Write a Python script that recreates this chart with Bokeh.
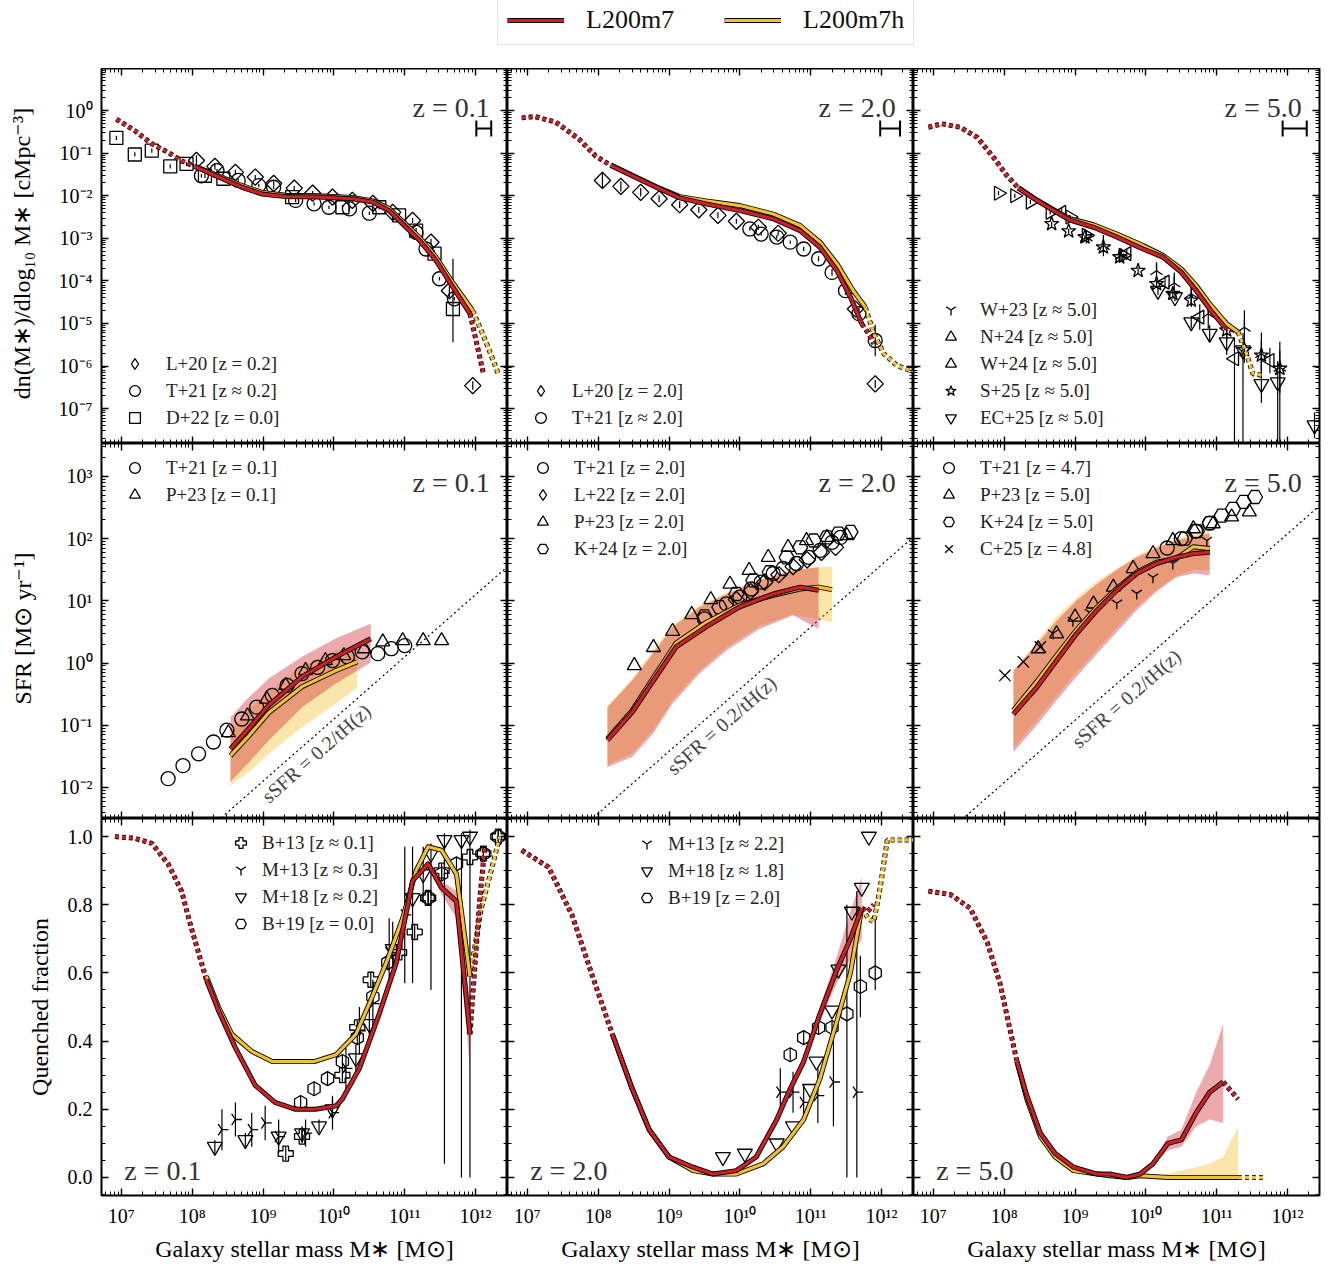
import numpy as np
from bokeh.plotting import figure
from bokeh.layouts import gridplot, column
from bokeh.models import (Range1d, FixedTicker, LogAxis, LinearAxis, Legend,
                          LegendItem, Label, CustomJSTickFormatter)
from bokeh.embed import file_html
from bokeh.resources import INLINE

FONT = "Liberation Serif"
RED = "#cc1f26"
YEL = "#f2c12e"

# ---------------- axes / labels ----------------
X_DECADES = [7, 8, 9, 10, 11, 12]
Y_DECADES_SMF = [-7, -6, -5, -4, -3, -2, -1, 0]
Y_DECADES_SFR = [-2, -1, 0, 1, 2, 3]
Y_TICKS_QF = [0.0, 0.2, 0.4, 0.6, 0.8, 1.0]
Y_LABELS = ["dn(M∗)/dlog₁₀ M∗ [cMpc⁻³]", "SFR [M⊙ yr⁻¹]", "Quenched fraction"]
X_LABEL = "Galaxy stellar mass M∗ [M⊙]"
Z_TEXT = ["z = 0.1", "z = 2.0", "z = 5.0"]
SSFR_TEXT = "sSFR = 0.2/tH(z)"
SSFR_LOGC = [-10.90, -10.42, -9.92]          # log10 sSFR [yr^-1] of dotted line
MERR_LO = [12.01, 11.98, 11.93]              # horizontal mass-error indicator (log M)
MERR_HI = [12.22, 12.26, 12.27]

# ---------------- SMF z = 0.1 ----------------
smf1_red_lo_m = [6.93, 7.19, 7.43, 7.66, 7.85, 8.06]
smf1_red_lo_y = [-0.20, -0.47, -0.78, -0.98, -1.18, -1.33]
smf1_red_m = [8.06, 8.37, 8.70, 8.99, 9.32, 9.79, 10.26, 10.55, 10.78, 10.97, 11.21, 11.44, 11.68, 11.92]
smf1_red_y = [-1.33, -1.56, -1.80, -1.96, -2.02, -2.03, -2.07, -2.15, -2.35, -2.66, -3.05, -3.52, -4.15, -4.77]
smf1_red_hi_m = [11.92, 12.02, 12.11]
smf1_red_hi_y = [-4.77, -5.50, -6.18]
smf1_yel_m = [8.06, 8.37, 8.70, 8.99, 9.32, 9.79, 10.26, 10.55, 10.78, 10.97, 11.21, 11.44, 11.68, 11.96]
smf1_yel_y = [-1.32, -1.53, -1.76, -1.92, -1.99, -2.00, -2.04, -2.12, -2.30, -2.60, -2.98, -3.44, -4.05, -4.70]
smf1_yel_hi_m = [11.96, 12.15, 12.32]
smf1_yel_hi_y = [-4.70, -5.45, -6.18]

L20a_m = [8.06, 8.32, 8.61, 8.89, 9.15, 9.44, 9.70, 9.98, 10.26, 10.55, 10.83, 11.11, 11.37, 11.63, 11.96]
L20a_y = [-1.17, -1.31, -1.45, -1.56, -1.71, -1.82, -1.94, -2.03, -2.11, -2.18, -2.39, -2.58, -3.09, -4.23, -6.46]
L20a_e = [0.12, 0.08, 0.06, 0.05, 0.05, 0.05, 0.05, 0.05, 0.05, 0.05, 0.05, 0.06, 0.08, 0.15, 0.10]
T21a_m = [8.13, 8.35, 8.65, 8.94, 9.15, 9.46, 9.72, 9.93, 10.22, 10.50, 11.16, 11.30, 11.49, 11.70]
T21a_y = [-1.53, -1.41, -1.64, -1.76, -1.80, -2.11, -2.19, -2.27, -2.31, -2.41, -2.86, -3.25, -3.95, -4.42]
D22a_m = [6.93, 7.19, 7.43, 7.69, 7.92, 8.18, 8.44, 9.41, 10.12, 10.64, 10.92, 11.16, 11.42, 11.68]
D22a_y = [-0.64, -1.03, -0.94, -1.31, -1.25, -1.53, -1.60, -2.03, -2.27, -2.27, -2.46, -2.82, -3.36, -4.66]
D22a_elo = [0.05, 0.05, 0.05, 0.05, 0.05, 0.05, 0.05, 0.05, 0.05, 0.05, 0.05, 0.06, 0.08, 0.78]
D22a_ehi = [0.05, 0.05, 0.05, 0.05, 0.05, 0.05, 0.05, 0.05, 0.05, 0.05, 0.05, 0.06, 0.08, 1.18]

# ---------------- SMF z = 2.0 ----------------
smf2_red_lo_m = [6.92, 7.11, 7.40, 7.73, 7.96, 8.18]
smf2_red_lo_y = [-0.17, -0.14, -0.27, -0.67, -1.06, -1.29]
smf2_red_m = [8.18, 8.48, 8.82, 9.15, 9.52, 10.00, 10.47, 10.85, 11.13, 11.37, 11.56, 11.72]
smf2_red_y = [-1.29, -1.53, -1.80, -2.05, -2.19, -2.35, -2.54, -2.82, -3.21, -3.76, -4.38, -5.01]
smf2_red_hi_m = [11.72, 11.80, 11.89]
smf2_red_hi_y = [-5.01, -5.20, -5.48]
smf2_yel_m = [8.18, 8.48, 8.82, 9.15, 9.52, 10.00, 10.47, 10.85, 11.13, 11.37, 11.60, 11.77]
smf2_yel_y = [-1.28, -1.52, -1.79, -2.02, -2.12, -2.23, -2.43, -2.70, -3.09, -3.60, -4.23, -4.62]
smf2_yel_hi_m = [11.77, 11.89, 12.03, 12.22, 12.46]
smf2_yel_hi_y = [-4.62, -5.24, -5.71, -5.99, -6.14]

L20b_m = [8.06, 8.32, 8.60, 8.86, 9.15, 9.42, 9.69, 9.95, 10.26, 10.54, 11.63, 11.91]
L20b_y = [-1.64, -1.78, -1.92, -2.07, -2.21, -2.33, -2.46, -2.60, -2.74, -2.88, -4.66, -6.42]
L20b_e = [0.18, 0.12, 0.10, 0.08, 0.08, 0.07, 0.07, 0.06, 0.06, 0.06, 0.10, 0.10]
T21b_m = [10.14, 10.30, 10.52, 10.71, 10.90, 11.11, 11.30, 11.49, 11.68, 11.91]
T21b_y = [-2.78, -2.90, -2.97, -3.09, -3.25, -3.48, -3.80, -4.23, -4.77, -5.40]
T21b_e = [0.04, 0.04, 0.04, 0.04, 0.05, 0.06, 0.08, 0.10, 0.15, 0.37]

# ---------------- SMF z = 5.0 ----------------
smf3_red_lo_m = [6.93, 7.12, 7.38, 7.62, 7.85, 8.04, 8.20]
smf3_red_lo_y = [-0.39, -0.31, -0.39, -0.63, -1.10, -1.53, -1.82]
smf3_red_m = [8.20, 8.46, 8.74, 8.93, 9.26, 9.59, 9.96, 10.24, 10.50, 10.71, 10.90, 11.11]
smf3_red_y = [-1.82, -2.11, -2.39, -2.57, -2.74, -2.97, -3.25, -3.44, -3.80, -4.23, -4.66, -5.09]
smf3_red_hi_m = [11.11, 11.25]
smf3_red_hi_y = [-5.09, -5.16]
smf3_yel_m = [8.20, 8.46, 8.74, 8.93, 9.26, 9.59, 9.96, 10.24, 10.50, 10.71, 10.90, 11.14, 11.30]
smf3_yel_y = [-1.81, -2.10, -2.37, -2.54, -2.68, -2.90, -3.17, -3.40, -3.72, -4.11, -4.54, -5.01, -5.20]
smf3_yel_hi_m = [11.30, 11.42, 11.51, 11.65]
smf3_yel_hi_y = [-5.20, -5.71, -6.18, -6.22]

W23c_m = [9.16, 9.40, 9.65, 10.15, 10.40, 10.64, 10.88, 11.39, 11.63, 11.89]
W23c_y = [-2.97, -3.17, -3.40, -3.76, -4.05, -4.30, -4.77, -5.09, -5.71, -6.03]
W23c_e = [0.15, 0.25, 0.15, 0.20, 0.25, 0.30, 0.35, 0.40, 0.50, 0.60]
N24c_m = [7.92, 8.15, 8.37, 8.65, 8.93, 9.16, 9.68]
N24c_y = [-1.94, -2.00, -2.15, -2.39, -2.50, -2.93, -3.40]
W24c_m = [8.81, 9.73, 10.27, 10.76, 11.25, 11.75]
W24c_y = [-2.39, -3.36, -4.03, -4.85, -5.83, -5.87]
W24c_elo = [0.10, 0.10, 0.15, 0.30, 3.00, 0.30]
W24c_ehi = [0.10, 0.10, 0.15, 0.30, 0.50, 0.30]
S25c_m = [8.67, 8.91, 9.14, 9.40, 9.63, 9.89, 10.15, 10.38, 10.64, 11.14, 11.39, 11.63, 11.89]
S25c_y = [-2.66, -2.83, -2.97, -3.21, -3.44, -3.76, -4.07, -4.30, -4.46, -5.16, -5.62, -5.75, -6.06]
S25c_elo = [0.05, 0.05, 0.05, 0.06, 0.06, 0.08, 0.10, 0.12, 0.15, 0.25, 0.30, 0.35, 3.00]
S25c_ehi = [0.05, 0.05, 0.05, 0.06, 0.06, 0.08, 0.10, 0.12, 0.15, 0.25, 0.30, 0.35, 0.43]
EC25c_m = [10.17, 10.41, 10.64, 10.90, 11.14, 11.37, 11.63, 11.86, 12.38]
EC25c_y = [-4.23, -4.38, -4.97, -5.24, -5.44, -5.63, -6.42, -6.38, -7.39]
EC25c_elo = [0.10, 0.10, 0.15, 0.20, 0.30, 3.00, 0.45, 3.00, 0.30]
EC25c_ehi = [0.10, 0.10, 0.15, 0.20, 0.30, 0.40, 0.80, 0.50, 0.30]

# ---------------- SFR z = 0.1 ----------------
sfr1_red_m = [8.54, 8.80, 9.08, 9.55, 10.03, 10.52]
sfr1_red_y = [-1.38, -1.05, -0.68, -0.22, 0.10, 0.39]
sfr1_red_up = [-0.87, -0.55, -0.25, 0.10, 0.40, 0.63]
sfr1_red_dn = [-1.91, -1.60, -1.24, -0.71, -0.33, 0.01]
sfr1_yel_m = [8.54, 8.80, 9.08, 9.55, 10.03, 10.33]
sfr1_yel_y = [-1.49, -1.17, -0.80, -0.38, -0.12, 0.02]
sfr1_yel_up = [-1.08, -0.75, -0.45, -0.05, 0.20, 0.30]
sfr1_yel_dn = [-1.97, -1.75, -1.46, -1.03, -0.65, -0.39]

T21d_m = [7.66, 7.87, 8.09, 8.30, 8.49, 8.70, 8.91, 9.13, 9.34, 9.55, 9.77, 9.98, 10.19, 10.40, 10.62, 10.81, 11.00]
T21d_y = [-1.86, -1.65, -1.46, -1.27, -1.08, -0.90, -0.71, -0.52, -0.36, -0.17, -0.07, 0.04, 0.10, 0.18, 0.15, 0.23, 0.28]
P23d_m = [8.51, 8.78, 9.05, 9.32, 9.60, 9.88, 10.14, 10.43, 10.69, 10.97, 11.26, 11.52]
P23d_y = [-1.12, -0.85, -0.58, -0.36, -0.12, 0.04, 0.12, 0.23, 0.34, 0.36, 0.36, 0.36]

# ---------------- SFR z = 2.0 ----------------
sfr2_red_m = [8.13, 8.48, 8.77, 9.10, 9.52, 9.99, 10.47, 10.85, 11.11]
sfr2_red_y = [-1.24, -0.79, -0.30, 0.26, 0.58, 0.90, 1.11, 1.22, 1.17]
sfr2_yel_m = [8.13, 8.48, 8.77, 9.10, 9.52, 9.99, 10.47, 10.85, 11.11, 11.30]
sfr2_yel_y = [-1.22, -0.76, -0.25, 0.32, 0.65, 0.93, 1.09, 1.19, 1.22, 1.18]
sfr2_band_m = [8.13, 8.48, 8.77, 9.05, 9.43, 9.81, 10.28, 10.75, 11.11]
sfr2_red_up = [-0.71, -0.28, 0.15, 0.58, 0.90, 1.11, 1.33, 1.49, 1.54]
sfr2_red_dn = [-1.67, -1.51, -1.14, -0.65, -0.17, 0.20, 0.55, 0.77, 0.55]
sfr2_yband_m = [8.13, 8.48, 8.77, 9.05, 9.43, 9.81, 10.28, 10.75, 11.11, 11.30]
sfr2_yel_up = [-0.69, -0.25, 0.20, 0.62, 0.93, 1.13, 1.35, 1.50, 1.54, 1.55]
sfr2_yel_dn = [-1.64, -1.45, -1.09, -0.60, -0.12, 0.25, 0.60, 0.78, 0.70, 0.66]

T21e_m = [9.50, 9.81, 10.00, 10.16, 10.30, 10.47, 10.61, 10.80, 10.97, 11.13, 11.30, 11.42]
T21e_y = [0.71, 0.95, 1.06, 1.19, 1.30, 1.44, 1.52, 1.60, 1.70, 1.81, 1.94, 2.02]
L22e_m = [9.95, 10.15, 10.35, 10.55, 10.75, 10.95, 11.15, 11.35]
L22e_y = [1.02, 1.15, 1.30, 1.42, 1.55, 1.66, 1.78, 1.86]
P23e_m = [8.51, 8.78, 9.05, 9.32, 9.59, 9.86, 10.13, 10.40, 10.68, 10.94, 11.23, 11.51]
P23e_y = [-0.04, 0.25, 0.51, 0.78, 1.02, 1.27, 1.49, 1.70, 1.86, 1.97, 2.02, 2.05]
K24e_m = [9.50, 9.71, 9.95, 10.19, 10.42, 10.66, 10.85, 11.04, 11.23, 11.39, 11.56]
K24e_y = [0.75, 0.90, 1.11, 1.33, 1.46, 1.70, 1.86, 1.97, 2.02, 2.08, 2.11]

# ---------------- SFR z = 5.0 ----------------
sfr3_m = [8.13, 8.46, 8.74, 9.02, 9.31, 9.59, 9.87, 10.15, 10.43, 10.67, 10.90]
sfr3_red_y = [-0.82, -0.39, 0.04, 0.47, 0.85, 1.17, 1.44, 1.60, 1.70, 1.76, 1.78]
sfr3_yel_y = [-0.76, -0.30, 0.12, 0.53, 0.90, 1.20, 1.46, 1.62, 1.68, 1.87, 1.84]
sfr3_red_up = [-0.12, 0.30, 0.68, 1.00, 1.27, 1.50, 1.70, 1.85, 1.97, 2.03, 2.08]
sfr3_red_dn = [-1.43, -1.00, -0.60, -0.22, 0.15, 0.50, 0.85, 1.15, 1.38, 1.44, 1.41]
sfr3_yel_up = [-0.15, 0.35, 0.75, 1.05, 1.32, 1.52, 1.72, 1.88, 2.00, 2.10, 2.15]
sfr3_yel_dn = [-1.36, -0.92, -0.52, -0.15, 0.22, 0.57, 0.90, 1.18, 1.40, 1.50, 1.49]

T21f_m = [10.30, 10.50, 10.70, 10.90]
T21f_y = [1.85, 2.00, 2.12, 2.25]
P23f_m = [8.48, 8.74, 9.00, 9.26, 9.54, 9.82, 10.10, 10.38, 10.67, 10.95, 11.21, 11.46]
P23f_y = [0.23, 0.47, 0.74, 0.95, 1.22, 1.52, 1.76, 1.97, 2.16, 2.24, 2.35, 2.43]
K24f_m = [10.55, 10.72, 10.90, 11.07, 11.23, 11.38, 11.54]
K24f_y = [2.00, 2.12, 2.25, 2.37, 2.48, 2.59, 2.67]
C25f_m = [8.01, 8.27, 8.51]
C25f_y = [-0.20, 0.02, 0.26]
C25f_b_m = [8.69, 8.97, 9.21, 9.59, 9.87, 10.10, 10.38, 10.86]
C25f_b_y = [0.48, 0.68, 0.81, 0.96, 1.12, 1.38, 1.60, 1.97]

# ---------------- Quenched fraction z = 0.1 ----------------
qf1_red_lo_m = [6.91, 7.19, 7.43, 7.66, 7.85, 7.99, 8.20]
qf1_red_lo_y = [1.00, 0.995, 0.98, 0.92, 0.84, 0.73, 0.58]
qf1_red_m = [8.20, 8.37, 8.61, 8.89, 9.17, 9.46, 9.74, 10.03, 10.12, 10.36, 10.64, 10.88, 11.11, 11.33, 11.52, 11.73, 11.92]
qf1_red_y = [0.58, 0.49, 0.38, 0.27, 0.22, 0.20, 0.20, 0.21, 0.23, 0.32, 0.48, 0.63, 0.87, 0.92, 0.85, 0.81, 0.42]
qf1_red_hi_m = [11.92, 11.99, 12.06, 12.13]
qf1_red_hi_y = [0.42, 0.62, 0.82, 0.97]
qf1_yel_m = [8.20, 8.37, 8.56, 8.84, 9.13, 9.41, 9.72, 10.03, 10.31, 10.50, 10.74, 10.97, 11.16, 11.33, 11.52, 11.73, 11.92]
qf1_yel_y = [0.59, 0.50, 0.42, 0.37, 0.34, 0.34, 0.34, 0.36, 0.42, 0.51, 0.63, 0.76, 0.90, 0.97, 0.96, 0.89, 0.59]
qf1_yel_hi_m = [11.92, 12.08, 12.22, 12.34]
qf1_yel_hi_y = [0.59, 0.79, 0.90, 1.00]
qf1_band_m = [11.33, 11.52, 11.73, 11.92]
qf1_red_up = [0.93, 0.87, 0.84, 0.52]
qf1_red_dn = [0.91, 0.83, 0.76, 0.32]

B13g_m = [9.32, 9.55, 10.12, 10.33, 10.52, 10.92, 11.14, 11.33, 11.52, 11.92, 12.11, 12.32]
B13g_y = [0.07, 0.12, 0.30, 0.44, 0.58, 0.66, 0.72, 0.82, 0.90, 0.94, 0.95, 1.00]
M13g_m = [8.42, 8.61, 8.84, 9.03, 9.22, 9.60, 9.98, 10.17, 10.36, 10.55, 10.78, 11.00]
M13g_y = [0.14, 0.17, 0.14, 0.16, 0.12, 0.13, 0.19, 0.32, 0.43, 0.51, 0.66, 0.77]
M13g_e = [0.06, 0.05, 0.05, 0.05, 0.05, 0.04, 0.05, 0.06, 0.07, 0.07, 0.10, 0.20]
M18g_m = [8.32, 8.75, 9.22, 9.55, 9.79, 9.98, 10.31, 10.50, 10.83, 11.11, 11.26, 11.37, 11.56, 11.80, 11.92]
M18g_y = [0.09, 0.11, 0.12, 0.13, 0.15, 0.20, 0.35, 0.45, 0.67, 0.82, 0.89, 0.95, 0.99, 0.99, 1.00]
M18g_elo = [0.02, 0.02, 0.02, 0.02, 0.02, 0.03, 0.04, 0.05, 0.08, 0.25, 0.08, 0.40, 0.95, 0.99, 1.00]
M18g_ehi = [0.02, 0.02, 0.02, 0.02, 0.02, 0.03, 0.04, 0.05, 0.08, 0.15, 0.08, 0.03, 0.02, 0.02, 0.02]
B19g_m = [9.53, 9.72, 9.91, 10.12, 10.33, 10.55, 10.76, 11.33, 11.52, 11.73, 12.11, 12.32]
B19g_y = [0.22, 0.26, 0.29, 0.34, 0.41, 0.53, 0.63, 0.82, 0.89, 0.92, 0.95, 1.00]

# ---------------- Quenched fraction z = 2.0 ----------------
qf2_red_lo_m = [6.92, 7.30, 7.63, 7.92, 8.20]
qf2_red_lo_y = [0.96, 0.91, 0.77, 0.59, 0.42]
qf2_red_m = [8.20, 8.48, 8.72, 9.00, 9.34, 9.62, 9.95, 10.23, 10.52, 10.71, 10.90, 11.13, 11.37, 11.56, 11.72]
qf2_red_y = [0.42, 0.26, 0.14, 0.06, 0.03, 0.01, 0.02, 0.06, 0.17, 0.26, 0.34, 0.48, 0.61, 0.70, 0.79]
qf2_red_hi_m = [11.72, 11.80, 11.89]
qf2_red_hi_y = [0.79, 0.78, 0.80]
qf2_yel_m = [8.20, 8.48, 8.72, 9.00, 9.34, 9.62, 9.95, 10.33, 10.61, 10.90, 11.13, 11.37, 11.56, 11.72]
qf2_yel_y = [0.42, 0.26, 0.14, 0.06, 0.02, 0.01, 0.01, 0.04, 0.09, 0.17, 0.29, 0.46, 0.60, 0.79]
qf2_yel_hi_m = [11.72, 11.81, 11.89, 11.98, 12.08, 12.46]
qf2_yel_hi_y = [0.79, 0.76, 0.75, 0.85, 0.99, 0.99]
qf2_band_m = [11.13, 11.37, 11.56, 11.72]
qf2_red_up = [0.50, 0.65, 0.78, 0.88]
qf2_red_dn = [0.46, 0.57, 0.64, 0.70]

M13h_m = [10.57, 10.75, 10.90, 11.10, 11.32, 11.65]
M13h_y = [0.25, 0.25, 0.22, 0.24, 0.28, 0.25]
M13h_elo = [0.07, 0.06, 0.05, 0.08, 0.13, 0.25]
M13h_ehi = [0.07, 0.06, 0.05, 0.08, 0.13, 0.59]
M18h_m = [9.76, 10.07, 10.52, 10.75, 10.99, 11.08, 11.30, 11.39, 11.58, 11.72, 11.82]
M18h_y = [0.06, 0.07, 0.10, 0.15, 0.26, 0.34, 0.49, 0.61, 0.78, 0.85, 1.00]
B19h_m = [10.71, 10.90, 11.11, 11.30, 11.51, 11.70, 11.91]
B19h_y = [0.36, 0.41, 0.44, 0.44, 0.48, 0.56, 0.60]
B19h_elo = [0.02, 0.02, 0.02, 0.02, 0.48, 0.09, 0.05]
B19h_ehi = [0.02, 0.02, 0.02, 0.02, 0.32, 0.09, 0.16]

# ---------------- Quenched fraction z = 5.0 ----------------
qf3_red_lo_m = [6.93, 7.24, 7.52, 7.76, 7.94, 8.18]
qf3_red_lo_y = [0.84, 0.83, 0.79, 0.69, 0.57, 0.34]
qf3_red_m = [8.18, 8.32, 8.51, 8.72, 8.98, 9.31, 9.49, 9.73, 9.92, 10.10, 10.31, 10.50, 10.71, 10.90, 11.09]
qf3_red_y = [0.34, 0.24, 0.13, 0.07, 0.03, 0.01, 0.01, 0.00, 0.01, 0.04, 0.10, 0.11, 0.19, 0.25, 0.28]
qf3_red_hi_m = [11.09, 11.30]
qf3_red_hi_y = [0.28, 0.23]
qf3_yel_m = [8.18, 8.32, 8.51, 8.72, 8.98, 9.31, 9.49, 9.73, 9.92, 10.31, 10.71, 11.30]
qf3_yel_y = [0.34, 0.23, 0.12, 0.06, 0.02, 0.01, 0.005, 0.00, 0.005, 0.00, 0.00, 0.00]
qf3_yel_hi_m = [11.30, 11.68]
qf3_yel_hi_y = [0.00, 0.00]
qf3_band_m = [9.92, 10.10, 10.31, 10.50, 10.71, 10.90, 11.09]
qf3_red_up = [0.01, 0.045, 0.12, 0.14, 0.25, 0.33, 0.45]
qf3_red_dn = [0.01, 0.035, 0.08, 0.09, 0.15, 0.17, 0.16]
qf3_yband_m = [9.92, 10.31, 10.50, 10.71, 10.90, 11.09, 11.30]
qf3_yel_up = [0.00, 0.01, 0.02, 0.03, 0.04, 0.06, 0.15]
qf3_yel_dn = [0.00, 0.00, 0.00, 0.00, 0.00, 0.00, 0.00]


# ======================= helpers =======================
def L(a):
    return 10.0 ** np.asarray(a, dtype=float)


def ident(a):
    return np.asarray(a, dtype=float)


SUP_JS = """
const s = {'0':'\u2070','1':'\u00b9','2':'\u00b2','3':'\u00b3','4':'\u2074','5':'\u2075',
           '6':'\u2076','7':'\u2077','8':'\u2078','9':'\u2079','-':'\u207b'};
const e = Math.round(Math.log10(tick));
return '10' + String(e).split('').map(c => s[c]).join('');
"""
BLANK_JS = "return ' ';"

XR = Range1d(10 ** 6.72, 10 ** 12.45)
YR = [Range1d(10 ** -7.82, 10 ** 0.99), Range1d(10 ** -2.5, 10 ** 3.53), Range1d(-0.053, 1.053)]
FW = 406
GH = 27          # legend glyph box
PITCH = 27       # legend row pitch


def x_ticker():
    return FixedTicker(ticks=[10.0 ** k for k in X_DECADES],
                       minor_ticks=[m * 10.0 ** k for k in range(6, 13) for m in range(2, 10)])


def y_ticker(row):
    if row == 0:
        return FixedTicker(ticks=[10.0 ** k for k in Y_DECADES_SMF],
                           minor_ticks=[m * 10.0 ** k for k in range(-9, 2) for m in range(2, 10)])
    if row == 1:
        return FixedTicker(ticks=[10.0 ** k for k in Y_DECADES_SFR],
                           minor_ticks=[m * 10.0 ** k for k in range(-4, 4) for m in range(2, 10)])
    return FixedTicker(ticks=Y_TICKS_QF, minor_ticks=[i * 0.05 for i in range(-1, 22)])


def style_axis(ax, show):
    ax.axis_line_color = None
    ax.major_tick_in = 7
    ax.major_tick_out = 0
    ax.minor_tick_in = 4
    ax.minor_tick_out = 0
    ax.major_tick_line_width = 1.4
    ax.minor_tick_line_width = 1.0
    ax.major_tick_line_color = "black"
    ax.minor_tick_line_color = "black"
    if show:
        ax.major_label_text_font = FONT
        ax.major_label_text_font_size = "20px"
        ax.major_label_text_color = "black"
        ax.major_label_standoff = 9
        ax.axis_label_text_font = FONT
        ax.axis_label_text_font_size = "24px"
        ax.axis_label_text_font_style = "normal"
        ax.axis_label_text_color = "black"
    else:
        ax.formatter = CustomJSTickFormatter(code=BLANK_JS)
        ax.major_label_text_font_size = "1px"
        ax.major_label_text_alpha = 0
        ax.major_label_standoff = 0


def make_fig(row, col):
    fh = 377 if row == 2 else 375
    p = figure(frame_width=FW, frame_height=fh, x_axis_type="log",
               y_axis_type=("linear" if row == 2 else "log"),
               x_range=XR, y_range=YR[row], output_backend="svg", toolbar_location=None,
               min_border_left=(101 if col == 0 else 0), min_border_right=(10 if col == 2 else 0),
               min_border_top=0, min_border_bottom=(64 if row == 2 else 0))
    p.outline_line_color = "black"
    p.outline_line_width = 2
    p.outline_line_alpha = 1
    p.grid.visible = False
    p.background_fill_color = "white"
    p.border_fill_color = "white"

    xb = p.xaxis[0]
    xb.ticker = x_ticker()
    style_axis(xb, row == 2)
    if row == 2:
        xb.formatter = CustomJSTickFormatter(code=SUP_JS)
        xb.axis_label = X_LABEL
        xb.axis_label_standoff = 6
    xa = LogAxis(ticker=x_ticker())
    style_axis(xa, False)
    p.add_layout(xa, "above")

    yl = p.yaxis[0]
    yl.ticker = y_ticker(row)
    style_axis(yl, col == 0)
    if col == 0:
        if row < 2:
            yl.formatter = CustomJSTickFormatter(code=SUP_JS)
            yl.axis_label_standoff = 21
        else:
            yl.formatter = CustomJSTickFormatter(code="return tick.toFixed(1);")
            yl.axis_label_standoff = 12
        yl.axis_label = Y_LABELS[row]
    ya = (LinearAxis if row == 2 else LogAxis)(ticker=y_ticker(row))
    style_axis(ya, False)
    p.add_layout(ya, "right")
    return p


def model(p, m, y, color, conv, dotted=False):
    x = L(m)
    yy = conv(y)
    if dotted:
        p.line(x, yy, line_color="black", line_width=5.0, line_dash="4 3")
        p.line(x, yy, line_color=color, line_width=3.4, line_dash="4 3")
    else:
        p.line(x, yy, line_color="black", line_width=5.0, line_join="round")
        p.line(x, yy, line_color=color, line_width=3.2, line_join="round")


def band(p, m, lo, hi, color, conv, alpha=0.4):
    p.varea(x=L(m), y1=conv(lo), y2=conv(hi), fill_color=color, fill_alpha=alpha)


def errbars(p, x, yv, conv, elo, ehi):
    if ehi is None:
        ehi = elo
    lo = yv - np.asarray(elo)
    hi = yv + np.asarray(ehi)
    p.segment(x0=x, y0=conv(lo), x1=x, y1=conv(hi), line_color="black", line_width=1.2)


def obs(p, m, y, marker, size, conv, elo=None, ehi=None, angle=0.0):
    x = L(m)
    yv = np.asarray(y, dtype=float)
    if elo is not None:
        errbars(p, x, yv, conv, elo, ehi)
    return p.scatter(x, conv(yv), marker=marker, size=size, angle=angle,
                     line_color="black", line_width=1.3, fill_alpha=0)


def legend_proxy(p, marker):
    # off-range glyph used only for its legend symbol
    return p.scatter([1.0], [1e-30] if p.y_range is not YR[2] else [-5.0], marker=marker,
                     size=12, line_color="black", line_width=1.3, fill_alpha=0)


def diamonds(p, m, y, conv, elo=None, ehi=None):
    x = L(m)
    yv = np.asarray(y, dtype=float)
    if elo is not None:
        errbars(p, x, yv, conv, elo, ehi)
    p.scatter(x, conv(yv), marker="square", size=11.5, angle=np.pi / 4,
              line_color="black", line_width=1.3, fill_alpha=0)
    return legend_proxy(p, "diamond")


def pentagons(p, m, y, conv, elo=None, ehi=None):
    x = L(m)
    yv = np.asarray(y, dtype=float)
    if elo is not None:
        errbars(p, x, yv, conv, elo, ehi)
    return p.scatter(x, conv(yv), marker="hex", size=14, angle=np.pi / 2, line_color="black",
                     line_width=1.3, fill_alpha=0)


def add_legend(p, items, center_x, text_x, bottom_center=None, top_center=None, frame_h=375):
    # center_x: marker centre offset from frame left; text_x: text start offset from frame left
    n = len(items)
    height = GH + (n - 1) * PITCH
    left = center_x - GH / 2.0
    if bottom_center is not None:
        vy = bottom_center - GH / 2.0
    else:
        vy = frame_h - (top_center - GH / 2.0) - height
    leg = Legend(items=[LegendItem(label=t, renderers=[r]) for t, r in items],
                 location=(int(round(left)), int(round(vy))), orientation="vertical",
                 label_text_font=FONT, label_text_font_size="19px", label_text_color="#222",
                 glyph_width=GH, glyph_height=GH, label_height=GH,
                 label_standoff=max(0, int(round(text_x - left - GH))),
                 spacing=PITCH - GH, padding=0, margin=0, border_line_alpha=0,
                 background_fill_alpha=0)
    p.add_layout(leg)


def z_label_top(p, row, col):
    if row == 0:
        x, y, al = 10 ** 12.2, 10 ** 0.07, "right"
    elif row == 1:
        x, y, al = 10 ** 12.2, 10 ** 2.9, "right"
    else:
        x, y, al = 10 ** 7.04, 0.02, "left"
    p.add_layout(Label(x=x, y=y, text=Z_TEXT[col], text_font=FONT,
                       text_font_size="28px", text_align=al, text_baseline="alphabetic",
                       text_color="#333"))


def mass_err(p, col):
    yc = 10 ** -0.42
    p.segment(x0=[10 ** MERR_LO[col]], y0=[yc], x1=[10 ** MERR_HI[col]], y1=[yc],
              line_color="black", line_width=2)
    p.segment(x0=[10 ** MERR_LO[col], 10 ** MERR_HI[col]], y0=[10 ** -0.61] * 2,
              x1=[10 ** MERR_LO[col], 10 ** MERR_HI[col]], y1=[10 ** -0.23] * 2,
              line_color="black", line_width=2)


def ssfr_line(p, col, tx, ty):
    c = SSFR_LOGC[col]
    xs = np.array([6.5, 12.6])
    p.line(L(xs), L(xs + c), line_color="black", line_width=1.2, line_dash="2 3")
    p.add_layout(Label(x=10 ** tx, y=10 ** ty, text=SSFR_TEXT, text_font=FONT,
                       text_font_size="20px", text_align="center", text_baseline="middle",
                       angle=0.723, text_color="#444"))


figs = [[make_fig(r, c) for c in range(3)] for r in range(3)]

# ---------------- row 0: SMF ----------------
p = figs[0][0]
rL = diamonds(p, L20a_m, L20a_y, L, L20a_e)
rT = obs(p, T21a_m, T21a_y, "circle", 14, L, [0.04] * len(T21a_m))
rD = obs(p, D22a_m, D22a_y, "square", 13, L, D22a_elo, D22a_ehi)
model(p, smf1_red_lo_m, smf1_red_lo_y, RED, L, True)
model(p, smf1_yel_hi_m, smf1_yel_hi_y, YEL, L, True)
model(p, smf1_red_hi_m, smf1_red_hi_y, RED, L, True)
model(p, smf1_yel_m, smf1_yel_y, YEL, L)
model(p, smf1_red_m, smf1_red_y, RED, L)
mass_err(p, 0)
z_label_top(p, 0, 0)
add_legend(p, [("L+20 [z = 0.2]", rL), ("T+21 [z ≈ 0.2]", rT), ("D+22 [z = 0.0]", rD)],
           34, 66, bottom_center=26)

p = figs[0][1]
rL = diamonds(p, L20b_m, L20b_y, L, L20b_e)
rT = obs(p, T21b_m, T21b_y, "circle", 14, L, T21b_e)
model(p, smf2_red_lo_m, smf2_red_lo_y, RED, L, True)
model(p, smf2_yel_hi_m, smf2_yel_hi_y, YEL, L, True)
model(p, smf2_red_hi_m, smf2_red_hi_y, RED, L, True)
model(p, smf2_yel_m, smf2_yel_y, YEL, L)
model(p, smf2_red_m, smf2_red_y, RED, L)
mass_err(p, 1)
z_label_top(p, 0, 1)
add_legend(p, [("L+20 [z = 2.0]", rL), ("T+21 [z ≈ 2.0]", rT)], 33, 65, bottom_center=26)

p = figs[0][2]
rW3 = obs(p, W23c_m, W23c_y, "y", 14, L, W23c_e, angle=np.pi)
rN = obs(p, N24c_m, N24c_y, "triangle", 14, L, [0.05] * len(N24c_m), angle=-np.pi / 2)
rW4 = obs(p, W24c_m, W24c_y, "triangle", 14, L, W24c_elo, W24c_ehi, angle=np.pi / 2)
rS = obs(p, S25c_m, S25c_y, "star", 15, L, S25c_elo, S25c_ehi)
rE = obs(p, EC25c_m, EC25c_y, "inverted_triangle", 15, L, EC25c_elo, EC25c_ehi)
model(p, smf3_red_lo_m, smf3_red_lo_y, RED, L, True)
model(p, smf3_yel_hi_m, smf3_yel_hi_y, YEL, L, True)
model(p, smf3_red_hi_m, smf3_red_hi_y, RED, L, True)
model(p, smf3_yel_m, smf3_yel_y, YEL, L)
model(p, smf3_red_m, smf3_red_y, RED, L)
mass_err(p, 2)
z_label_top(p, 0, 2)
add_legend(p, [("W+23 [z ≈ 5.0]", rW3), ("N+24 [z ≈ 5.0]", rN), ("W+24 [z ≈ 5.0]", rW4),
               ("S+25 [z ≈ 5.0]", rS), ("EC+25 [z ≈ 5.0]", rE)], 37, 67, bottom_center=26)

# ---------------- row 1: SFR ----------------
p = figs[1][0]
ssfr_line(p, 0, 9.75, -1.45)
band(p, sfr1_yel_m, sfr1_yel_dn, sfr1_yel_up, YEL, L)
band(p, sfr1_red_m, sfr1_red_dn, sfr1_red_up, RED, L, 0.38)
rT = obs(p, T21d_m, T21d_y, "circle", 14, L)
rP = obs(p, P23d_m, P23d_y, "triangle", 14, L)
model(p, sfr1_yel_m, sfr1_yel_y, YEL, L)
model(p, sfr1_red_m, sfr1_red_y, RED, L)
z_label_top(p, 1, 0)
add_legend(p, [("T+21 [z = 0.1]", rT), ("P+23 [z = 0.1]", rP)], 34, 66, top_center=24)

p = figs[1][1]
ssfr_line(p, 1, 9.74, -1.0)
band(p, sfr2_yband_m, sfr2_yel_dn, sfr2_yel_up, YEL, L)
band(p, sfr2_band_m, sfr2_red_dn, sfr2_red_up, RED, L, 0.38)
rT = obs(p, T21e_m, T21e_y, "circle", 14, L)
rL = diamonds(p, L22e_m, L22e_y, L)
rP = obs(p, P23e_m, P23e_y, "triangle", 14, L)
rK = obs(p, K24e_m, K24e_y, "hex", 15, L)
model(p, sfr2_yel_m, sfr2_yel_y, YEL, L)
model(p, sfr2_red_m, sfr2_red_y, RED, L)
z_label_top(p, 1, 1)
add_legend(p, [("T+21 [z = 2.0]", rT), ("L+22 [z = 2.0]", rL), ("P+23 [z = 2.0]", rP),
               ("K+24 [z = 2.0]", rK)], 35, 66, top_center=24)

p = figs[1][2]
ssfr_line(p, 2, 9.72, -0.57)
band(p, sfr3_m, sfr3_yel_dn, sfr3_yel_up, YEL, L)
band(p, sfr3_m, sfr3_red_dn, sfr3_red_up, RED, L, 0.38)
rT = obs(p, T21f_m, T21f_y, "circle", 14, L)
rP = obs(p, P23f_m, P23f_y, "triangle", 14, L)
rK = obs(p, K24f_m, K24f_y, "hex", 15, L)
rC = obs(p, C25f_m, C25f_y, "x", 16, L)
obs(p, C25f_b_m, C25f_b_y, "y", 12, L)
model(p, sfr3_m, sfr3_yel_y, YEL, L)
model(p, sfr3_m, sfr3_red_y, RED, L)
z_label_top(p, 1, 2)
add_legend(p, [("T+21 [z = 4.7]", rT), ("P+23 [z = 5.0]", rP), ("K+24 [z = 5.0]", rK),
               ("C+25 [z = 4.8]", rC)], 35, 67, top_center=24)

# ---------------- row 2: quenched fraction ----------------
p = figs[2][0]
band(p, qf1_band_m, qf1_red_dn, qf1_red_up, RED, ident, 0.38)
rB = obs(p, B13g_m, B13g_y, "plus", 15, ident, [0.02] * len(B13g_m))
rM3 = obs(p, M13g_m, M13g_y, "y", 13, ident, M13g_e, angle=np.pi / 2)
rM8 = obs(p, M18g_m, M18g_y, "inverted_triangle", 15, ident, M18g_elo, M18g_ehi)
rB9 = pentagons(p, B19g_m, B19g_y, ident, [0.02] * len(B19g_m), [0.02] * len(B19g_m))
model(p, qf1_red_lo_m, qf1_red_lo_y, RED, ident, True)
model(p, qf1_yel_hi_m, qf1_yel_hi_y, YEL, ident, True)
model(p, qf1_red_hi_m, qf1_red_hi_y, RED, ident, True)
model(p, qf1_yel_m, qf1_yel_y, YEL, ident)
model(p, qf1_red_m, qf1_red_y, RED, ident)
z_label_top(p, 2, 0)
add_legend(p, [("B+13 [z ≈ 0.1]", rB), ("M+13 [z ≈ 0.3]", rM3), ("M+18 [z ≈ 0.2]", rM8),
               ("B+19 [z = 0.0]", rB9)], 139, 161, top_center=25, frame_h=377)

p = figs[2][1]
band(p, qf2_band_m, qf2_red_dn, qf2_red_up, RED, ident, 0.38)
rM3 = obs(p, M13h_m, M13h_y, "y", 13, ident, M13h_elo, M13h_ehi, angle=np.pi / 2)
rM8 = obs(p, M18h_m, M18h_y, "inverted_triangle", 15, ident)
rB9 = pentagons(p, B19h_m, B19h_y, ident, B19h_elo, B19h_ehi)
model(p, qf2_red_lo_m, qf2_red_lo_y, RED, ident, True)
model(p, qf2_yel_hi_m, qf2_yel_hi_y, YEL, ident, True)
model(p, qf2_red_hi_m, qf2_red_hi_y, RED, ident, True)
model(p, qf2_yel_m, qf2_yel_y, YEL, ident)
model(p, qf2_red_m, qf2_red_y, RED, ident)
z_label_top(p, 2, 1)
add_legend(p, [("M+13 [z ≈ 2.2]", rM3), ("M+18 [z ≈ 1.8]", rM8), ("B+19 [z = 2.0]", rB9)],
           140, 161, top_center=25, frame_h=377)

p = figs[2][2]
band(p, qf3_yband_m, qf3_yel_dn, qf3_yel_up, YEL, ident)
band(p, qf3_band_m, qf3_red_dn, qf3_red_up, RED, ident, 0.38)
model(p, qf3_red_lo_m, qf3_red_lo_y, RED, ident, True)
model(p, qf3_yel_hi_m, qf3_yel_hi_y, YEL, ident, True)
model(p, qf3_red_hi_m, qf3_red_hi_y, RED, ident, True)
model(p, qf3_yel_m, qf3_yel_y, YEL, ident)
model(p, qf3_red_m, qf3_red_y, RED, ident)
z_label_top(p, 2, 2)

# ---------------- top legend ----------------
lf = figure(width=101 + 3 * FW + 10, height=68, x_range=Range1d(0, 1), y_range=Range1d(0, 1),
            output_backend="svg", toolbar_location=None, min_border=0)
lf.xaxis.visible = False
lf.yaxis.visible = False
lf.outline_line_color = None
lf.grid.visible = False
kb1 = lf.line([-1, -0.5], [-1, -1], line_color="black", line_width=5.0)
kr = lf.line([-1, -0.5], [-1, -1], line_color=RED, line_width=3.2)
kb2 = lf.line([-1, -0.5], [-1, -1], line_color="black", line_width=5.0)
ky = lf.line([-1, -0.5], [-1, -1], line_color=YEL, line_width=3.2)
top_leg = Legend(items=[LegendItem(label="L200m7", renderers=[kb1, kr]),
                        LegendItem(label="L200m7h", renderers=[kb2, ky])],
                 location=(497, 23), orientation="horizontal",
                 label_text_font=FONT, label_text_font_size="26px", label_text_color="#111",
                 glyph_width=57, glyph_height=26, label_height=26, label_standoff=22,
                 spacing=50, padding=9, margin=0, border_line_color="#cccccc",
                 border_line_width=1.2, background_fill_color="white", background_fill_alpha=1)
lf.add_layout(top_leg)

grid = gridplot([row for row in figs], toolbar_location=None)
layout = column(lf, grid)

with open("out.html", "w", encoding="utf-8") as fh:
    fh.write(file_html(layout, INLINE))
